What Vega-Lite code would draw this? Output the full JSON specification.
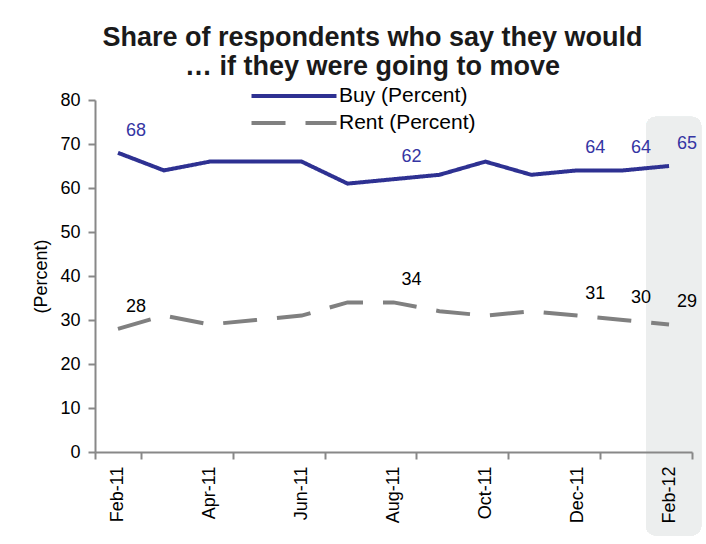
{
  "$schema": "https://vega.github.io/schema/vega-lite/v6.json",
  "autosize": "none",
  "width": 597,
  "height": 352,
  "padding": {"left": 95, "top": 100, "right": 14, "bottom": 92},
  "background": "white",
  "config": {
    "font": "Liberation Sans",
    "view": {"stroke": null},
    "axis": {"grid": false, "domainColor": "#888888", "domainWidth": 2, "tickColor": "#888888", "tickWidth": 2, "tickSize": 7, "labelColor": "#000000", "labelFont": "Liberation Sans", "titleFont": "Liberation Sans", "titleColor": "#000000"}
  },
  "title": {
    "text": ["Share of respondents who say they would", "… if they were going to move"],
    "fontSize": 27,
    "fontWeight": "bold",
    "font": "Liberation Sans",
    "color": "#1a1a1a",
    "lineHeight": 29,
    "anchor": "middle",
    "frame": "group",
    "dx": -21,
    "offset": 3
  },
  "data": {
    "values": [
      {"month": "Feb-11", "series": "Buy (Percent)", "value": 68, "show": true},
      {"month": "Mar-11", "series": "Buy (Percent)", "value": 64, "show": false},
      {"month": "Apr-11", "series": "Buy (Percent)", "value": 66, "show": false},
      {"month": "May-11", "series": "Buy (Percent)", "value": 66, "show": false},
      {"month": "Jun-11", "series": "Buy (Percent)", "value": 66, "show": false},
      {"month": "Jul-11", "series": "Buy (Percent)", "value": 61, "show": false},
      {"month": "Aug-11", "series": "Buy (Percent)", "value": 62, "show": true},
      {"month": "Sep-11", "series": "Buy (Percent)", "value": 63, "show": false},
      {"month": "Oct-11", "series": "Buy (Percent)", "value": 66, "show": false},
      {"month": "Nov-11", "series": "Buy (Percent)", "value": 63, "show": false},
      {"month": "Dec-11", "series": "Buy (Percent)", "value": 64, "show": true},
      {"month": "Jan-12", "series": "Buy (Percent)", "value": 64, "show": true},
      {"month": "Feb-12", "series": "Buy (Percent)", "value": 65, "show": true},
      {"month": "Feb-11", "series": "Rent (Percent)", "value": 28, "show": true},
      {"month": "Mar-11", "series": "Rent (Percent)", "value": 31, "show": false},
      {"month": "Apr-11", "series": "Rent (Percent)", "value": 29, "show": false},
      {"month": "May-11", "series": "Rent (Percent)", "value": 30, "show": false},
      {"month": "Jun-11", "series": "Rent (Percent)", "value": 31, "show": false},
      {"month": "Jul-11", "series": "Rent (Percent)", "value": 34, "show": false},
      {"month": "Aug-11", "series": "Rent (Percent)", "value": 34, "show": true},
      {"month": "Sep-11", "series": "Rent (Percent)", "value": 32, "show": false},
      {"month": "Oct-11", "series": "Rent (Percent)", "value": 31, "show": false},
      {"month": "Nov-11", "series": "Rent (Percent)", "value": 32, "show": false},
      {"month": "Dec-11", "series": "Rent (Percent)", "value": 31, "show": true},
      {"month": "Jan-12", "series": "Rent (Percent)", "value": 30, "show": true},
      {"month": "Feb-12", "series": "Rent (Percent)", "value": 29, "show": true}
    ]
  },
  "encoding": {
    "x": {
      "field": "month",
      "type": "ordinal",
      "sort": ["Feb-11","Mar-11","Apr-11","May-11","Jun-11","Jul-11","Aug-11","Sep-11","Oct-11","Nov-11","Dec-11","Jan-12","Feb-12"],
      "scale": {"type": "band", "paddingInner": 0, "paddingOuter": 0},
      "axis": {
        "title": null,
        "values": ["Feb-11","Apr-11","Jun-11","Aug-11","Oct-11","Dec-11","Feb-12"],
        "tickBand": "extent",
        "labelAngle": -90,
        "labelFontSize": 18,
        "labelPadding": 7
      }
    },
    "y": {
      "field": "value",
      "type": "quantitative",
      "scale": {"domain": [0, 80]},
      "axis": {
        "title": "(Percent)",
        "titleFontSize": 18,
        "titleFontWeight": "normal",
        "titlePadding": 9,
        "values": [0,10,20,30,40,50,60,70,80],
        "labelFontSize": 18,
        "labelPadding": 8
      }
    }
  },
  "layer": [
    {
      "mark": {"type": "rect", "color": "#eceeee", "cornerRadius": 10, "clip": false},
      "encoding": {
        "x": {"datum": "Feb-12", "bandPosition": 0},
        "x2": {"datum": "Feb-12", "bandPosition": 1.2},
        "y": {"datum": 76.2},
        "y2": {"datum": -19}
      }
    },
    {
      "mark": {"type": "line", "strokeWidth": 4},
      "encoding": {
        "color": {
          "field": "series",
          "type": "nominal",
          "scale": {"domain": ["Buy (Percent)", "Rent (Percent)"], "range": ["#2e3192", "#808080"]},
          "legend": {
            "title": null,
            "orient": "none",
            "legendX": 187,
            "legendY": -16,
            "padding": 0,
            "symbolType": "M-4.25,0H4.25",
            "symbolSize": 400,
            "symbolStrokeWidth": 4,
            "labelFontSize": 21,
            "labelFont": "Liberation Sans",
            "labelColor": "#000000",
            "labelOffset": 33,
            "rowPadding": 5
          }
        },
        "strokeDash": {
          "field": "series",
          "type": "nominal",
          "scale": {"domain": ["Buy (Percent)", "Rent (Percent)"], "range": [[1, 0], [34, 20]]},
          "legend": null
        }
      }
    },
    {
      "transform": [{"filter": "datum.show"}],
      "mark": {"type": "text", "fontSize": 18, "dx": 18, "dy": -22, "align": "center", "baseline": "middle"},
      "encoding": {
        "text": {"field": "value", "type": "quantitative"},
        "color": {"condition": {"test": "datum.series === 'Buy (Percent)'", "value": "#3535a3"}, "value": "#000000"}
      }
    }
  ]
}
